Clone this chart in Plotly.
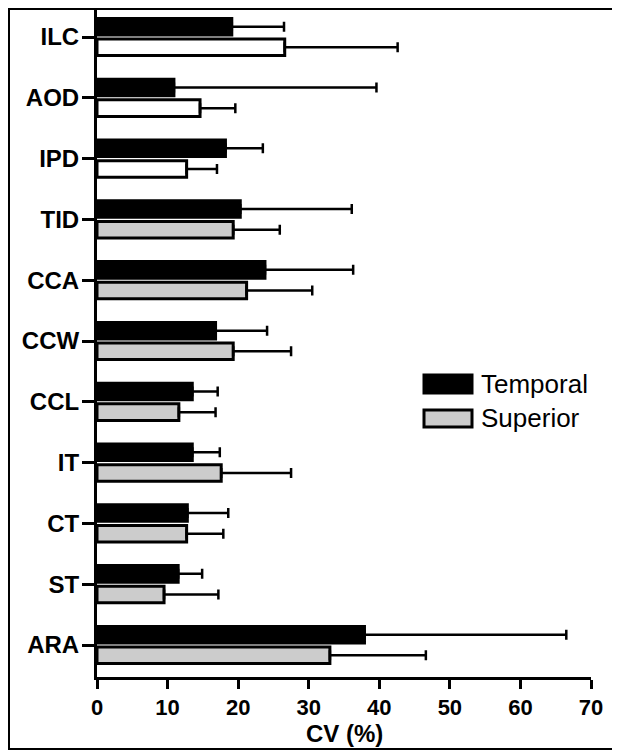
import plotly.graph_objects as go

categories = ["ILC", "AOD", "IPD", "TID", "CCA", "CCW", "CCL", "IT", "CT", "ST", "ARA"]
temporal = [19.1, 10.9, 18.2, 20.3, 23.8, 16.8, 13.5, 13.5, 12.8, 11.5, 37.9]
temporal_err = [7.4, 28.7, 5.3, 15.8, 12.5, 7.3, 3.6, 3.9, 5.8, 3.4, 28.6]
superior = [26.6, 14.6, 12.7, 19.3, 21.2, 19.3, 11.6, 17.6, 12.7, 9.5, 33.0]
superior_err = [16.0, 5.0, 4.3, 6.6, 9.3, 8.2, 5.2, 9.9, 5.2, 7.7, 13.6]
superior_colors = ["#ffffff"] * 3 + ["#cccccc"] * 8
x_ticks = [0, 10, 20, 30, 40, 50, 60, 70]

FONT = "Liberation Sans, Arial, sans-serif"

fig = go.Figure()
fig.add_trace(go.Bar(
    y=categories, x=temporal, orientation="h", name="Temporal",
    marker=dict(color="#000000", line=dict(color="#000000", width=3)),
    error_x=dict(type="data", symmetric=False, array=temporal_err,
                 arrayminus=[0] * len(temporal), color="#000000",
                 thickness=2.5, width=5),
    showlegend=False,
))
fig.add_trace(go.Bar(
    y=categories, x=superior, orientation="h", name="Superior",
    marker=dict(color=superior_colors, line=dict(color="#000000", width=3)),
    error_x=dict(type="data", symmetric=False, array=superior_err,
                 arrayminus=[0] * len(superior), color="#000000",
                 thickness=2.5, width=5),
    showlegend=False,
))

# page body has an 8px margin; geometry below is in window pixels
OFF = 8
W, H = 620 - OFF, 750 - OFF
L, R, T, B = 97, 591, 9, 677          # plot area in window pixels
def px(x):
    return (x - L) / (R - L)
def py(y):
    return (B - y) / (B - T)

shapes = [
    # outer frame
    dict(type="rect", xref="paper", yref="paper",
         x0=px(9), x1=px(615), y0=py(749), y1=py(9),
         line=dict(color="#000000", width=2), fillcolor="rgba(0,0,0,0)", layer="below"),
    # legend boxes
    dict(type="rect", xref="paper", yref="paper",
         x0=px(424), x1=px(472), y0=py(393), y1=py(375),
         line=dict(color="#000000", width=3), fillcolor="#000000"),
    dict(type="rect", xref="paper", yref="paper",
         x0=px(424), x1=px(472), y0=py(427), y1=py(410),
         line=dict(color="#000000", width=3), fillcolor="#cccccc"),
]
annotations = [
    dict(xref="paper", yref="paper", x=px(479), y=py(384), text="Temporal",
         showarrow=False, xanchor="left", yanchor="middle",
         font=dict(family=FONT, size=26, color="#000000")),
    dict(xref="paper", yref="paper", x=px(479), y=py(418), text="Superior",
         showarrow=False, xanchor="left", yanchor="middle",
         font=dict(family=FONT, size=26, color="#000000")),
    # x-axis title
    dict(xref="paper", yref="paper", x=0.5, y=py(733), text="<b>CV (%)</b>",
         showarrow=False, xanchor="center", yanchor="middle",
         font=dict(family=FONT, size=24, color="#000000")),
]

# category range so that ILC sits at y=37 and ARA at y=645 (window px)
spacing = (645 - 37) / (len(categories) - 1)
y_top = -(37 - T) / spacing
y_bot = (len(categories) - 1) + (B - 645) / spacing

fig.update_layout(
    width=W, height=H, autosize=False,
    margin=dict(l=L - OFF, r=620 - R, t=T - OFF, b=750 - B, pad=0),
    paper_bgcolor="#ffffff", plot_bgcolor="#ffffff",
    barmode="group", bargap=0.32, bargroupgap=0.2,
    font=dict(family=FONT, color="#000000"),
    shapes=shapes, annotations=annotations,
    xaxis=dict(
        range=[0, 70], tickvals=x_ticks, ticktext=[str(v) for v in x_ticks],
        showgrid=False, zeroline=False,
        showline=True, linecolor="#000000", linewidth=3,
        ticks="outside", ticklen=9, tickwidth=3, tickcolor="#000000",
        tickfont=dict(family=FONT, size=22, color="#000000", weight="bold"),
    ),
    yaxis=dict(
        type="category", categoryorder="array", categoryarray=categories,
        range=[y_bot, y_top],
        showgrid=False, zeroline=False,
        showline=True, linecolor="#000000", linewidth=3,
        ticks="outside", ticklen=12, tickwidth=3, tickcolor="#000000",
        ticklabelstandoff=-2,
        tickfont=dict(family=FONT, size=24, color="#000000", weight="bold"),
    ),
)

fig.write_html("out.html")
